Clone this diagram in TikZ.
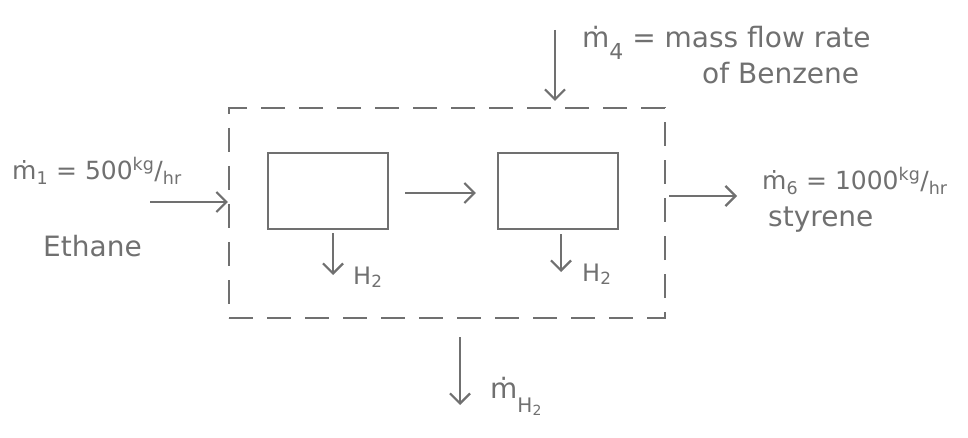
\documentclass[tikz,border=0pt]{standalone}
\usepackage{fontspec}
\setmainfont{DejaVu Sans}
\usetikzlibrary{arrows.meta}
\definecolor{pencil}{HTML}{707070}
\begin{document}
\begin{tikzpicture}[x=1pt,y=-1pt,
  pen/.style={draw=pencil,line width=2.2pt},
  flow/.style={pen,-{Straight Barb[length=10pt,width=20pt,line width=2.2pt]}},
  unitbox/.style={pen,rectangle,minimum width=120pt,minimum height=76pt,inner sep=0pt},
  sysbox/.style={pen,dash pattern=on 24pt off 14pt,rectangle,minimum width=436pt,minimum height=210pt,inner sep=0pt},
  lbl/.style={text=pencil,font=\fontsize{28}{32}\selectfont,inner sep=0pt,anchor=base west},
  mid/.style={lbl,font=\fontsize{25}{28}\selectfont},
  small/.style={lbl,font=\fontsize{24}{28}\selectfont}]
\useasboundingbox (0,0) rectangle (968,438);
\node[sysbox] (sys) at (447,213) {};
\node[unitbox] (b1) at (328,191) {};
\node[unitbox] (b2) at (558,191) {};
% feed
\coordinate (feed) at (150,202);
\draw[flow] (feed) -- (feed -| sys.west);
\node[mid] (m1) at (12,180) {ṁ\textsubscript{1} = 500\textsuperscript{kg}/\textsubscript{hr}};
\node[lbl] (eth) at (43,256) {Ethane};
% between units
\coordinate (mid) at (440,193);
\draw[flow,shorten <=16pt,shorten >=21pt] (mid -| b1.east) -- (mid -| b2.west);
% H2 out of units
\coordinate (h1) at (333,275);
\draw[flow,shorten <=3pt] (h1 |- b1.south) -- (h1);
\node[small] (h1l) at (353,284) {H\textsubscript{2}};
\coordinate (h2) at (561,272);
\draw[flow,shorten <=4pt] (h2 |- b2.south) -- (h2);
\node[small] (h2l) at (582,281) {H\textsubscript{2}};
% benzene in
\coordinate (bz) at (555,30);
\draw[flow,shorten >=6pt] (bz) -- (bz |- sys.north);
\node[lbl] (m4) at (582,48) {ṁ\raisebox{-12pt}{\fontsize{22}{24}\selectfont 4} = mass flow rate};
\node[lbl] (m4b) at (702,84) {of Benzene};
% styrene out
\coordinate (st) at (737,196);
\draw[flow,shorten <=3pt] (st -| sys.east) -- (st);
\node[mid] (m6) at (762,190) {ṁ\textsubscript{6} = 1000\textsuperscript{kg}/\textsubscript{hr}};
\node[lbl] (sty) at (768,226) {styrene};
% H2 out of system
\coordinate (hs) at (460,405);
\draw[flow,shorten <=18pt] (hs |- sys.south) -- (hs);
\node[lbl] (mh) at (490,398) {ṁ\raisebox{-14pt}{\fontsize{20}{24}\selectfont H\textsubscript{2}}};
\end{tikzpicture}
\end{document}
